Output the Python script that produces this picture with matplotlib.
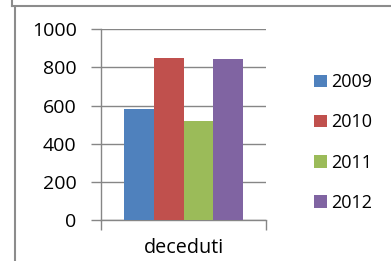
import matplotlib
matplotlib.use("Agg")
from matplotlib import pyplot as plt
from matplotlib.lines import Line2D

# Data
categories = ["deceduti"]
years = ["2009", "2010", "2011", "2012"]
values = [582, 849, 519, 844]
colors = ["#4F81BD", "#C0504D", "#9BBB59", "#8064A2"]

plt.rcParams['font.family'] = ['Open Sans', 'DejaVu Sans']

fig = plt.figure(figsize=(3.91, 2.61), dpi=100)
ax = fig.add_axes([101/391, 41/261, 165/391, 190.7/261])

bar_w = 0.18
for i, (yr, v) in enumerate(zip(years, values)):
    ax.bar(0 + (i - 1.5) * bar_w, v, width=bar_w, color=colors[i], label=yr, zorder=3)

ax.set_xlim(-0.5, 0.5)
ax.set_ylim(0, 1000)
ax.set_yticks(range(0, 1001, 200))
ax.grid(axis="y", color="#868686", linewidth=1.0, zorder=0)
ax.set_xticks([-0.5, 0.5])
ax.set_xticklabels(["", ""])
ax.set_xticks([0], minor=True)
ax.set_xticklabels(categories, minor=True)
ax.tick_params(axis="x", which="minor", length=0, labelsize=14.2, pad=13)
ax.tick_params(axis="x", which="major", length=7, width=1, color="#868686", direction="out")
ax.tick_params(axis="y", length=7, width=1, color="#868686", labelsize=14, pad=10.5)

for s in ["top", "right"]:
    ax.spines[s].set_visible(False)
for s in ["left", "bottom"]:
    ax.spines[s].set_color("#868686")
    ax.spines[s].set_linewidth(1)

leg = ax.legend(loc="center left", bbox_to_anchor=(298/391, 1 - 142.5/261),
                bbox_transform=fig.transFigure, frameon=False,
                handlelength=0.7, handleheight=0.7, handletextpad=0.25,
                labelspacing=1.22, fontsize=13)

# outer chart border fragments
fig.add_artist(Line2D([12/391, 12/391], [1, 1 - 5.5/261], transform=fig.transFigure, color="#8c8c8c", lw=1.5))
fig.add_artist(Line2D([12/391, 391/391], [1 - 5.5/261, 1 - 5.5/261], transform=fig.transFigure, color="#8c8c8c", lw=1.5))
fig.add_artist(Line2D([15/391, 15/391], [0, 1 - 8/261], transform=fig.transFigure, color="#8c8c8c", lw=1.5))

fig.savefig("out.png", dpi=100)
